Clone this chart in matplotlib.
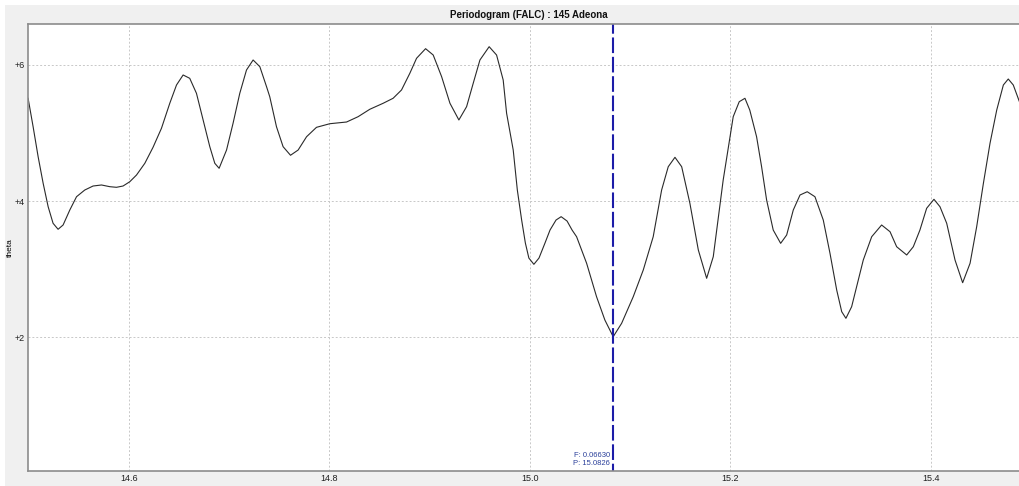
import numpy as np
import matplotlib
matplotlib.use("Agg")
import matplotlib.pyplot as plt
from matplotlib.patches import Rectangle

plt.rcParams['font.family'] = ['Liberation Sans', 'DejaVu Sans']

# periodogram samples: period (h) and theta
period = [14.4996, 14.5046, 14.5096, 14.5146, 14.5196, 14.5245, 14.5295, 14.5345,
          14.5412, 14.5479, 14.5561, 14.5644, 14.5728, 14.5811, 14.5877, 14.5943,
          14.6010, 14.6077, 14.6160, 14.6242, 14.6326, 14.6409, 14.6476, 14.6542,
          14.6608, 14.6675, 14.6741, 14.6808, 14.6858, 14.6901, 14.6975, 14.7040,
          14.7107, 14.7174, 14.7240, 14.7307, 14.7374, 14.7406, 14.7473, 14.7539,
          14.7613, 14.7689, 14.7773, 14.7872, 14.8005, 14.8172, 14.8287, 14.8404,
          14.8537, 14.8636, 14.8720, 14.8803, 14.8870, 14.8960, 14.9036, 14.9120,
          14.9203, 14.9292, 14.9369, 14.9435, 14.9502, 14.9594, 14.9668, 14.9734,
          14.9768, 14.9834, 14.9875, 14.9918, 14.9955, 14.9990, 15.0040, 15.0091,
          15.0151, 15.0201, 15.0261, 15.0312, 15.0371, 15.0421, 15.0466, 15.0566,
          15.0665, 15.0748, 15.0831, 15.0915, 15.1031, 15.1131, 15.1230, 15.1314,
          15.1380, 15.1447, 15.1514, 15.1596, 15.1680, 15.1763, 15.1829, 15.1928,
          15.2028, 15.2088, 15.2145, 15.2193, 15.2261, 15.2311, 15.2361, 15.2427,
          15.2501, 15.2561, 15.2627, 15.2694, 15.2766, 15.2843, 15.2926, 15.2993,
          15.3060, 15.3110, 15.3152, 15.3209, 15.3259, 15.3325, 15.3409, 15.3508,
          15.3592, 15.3658, 15.3758, 15.3824, 15.3890, 15.3957, 15.4030, 15.4090,
          15.4157, 15.4240, 15.4316, 15.4390, 15.4456, 15.4523, 15.4589, 15.4656,
          15.4722, 15.4771, 15.4821, 15.4888]
theta = [5.507, 5.090, 4.650, 4.260, 3.916, 3.673, 3.585, 3.648,
         3.868, 4.063, 4.161, 4.220, 4.235, 4.210, 4.201, 4.220,
         4.283, 4.381, 4.553, 4.788, 5.067, 5.434, 5.702, 5.849,
         5.800, 5.580, 5.189, 4.797, 4.553, 4.480, 4.748, 5.140,
         5.580, 5.922, 6.069, 5.971, 5.677, 5.530, 5.090, 4.797,
         4.671, 4.748, 4.943, 5.081, 5.134, 5.159, 5.237, 5.346,
         5.434, 5.507, 5.629, 5.874, 6.094, 6.235, 6.142, 5.824,
         5.434, 5.189, 5.384, 5.727, 6.069, 6.264, 6.142, 5.775,
         5.287, 4.748, 4.161, 3.721, 3.384, 3.163, 3.071, 3.163,
         3.384, 3.574, 3.721, 3.770, 3.706, 3.574, 3.476, 3.086,
         2.596, 2.254, 2.009, 2.205, 2.596, 2.988, 3.476, 4.161,
         4.503, 4.641, 4.503, 3.966, 3.281, 2.866, 3.183, 4.308,
         5.237, 5.457, 5.507, 5.335, 4.943, 4.503, 4.015, 3.574,
         3.379, 3.501, 3.868, 4.088, 4.136, 4.063, 3.721, 3.233,
         2.694, 2.376, 2.279, 2.449, 2.742, 3.134, 3.476, 3.648,
         3.549, 3.329, 3.208, 3.329, 3.574, 3.893, 4.025, 3.916,
         3.673, 3.134, 2.801, 3.086, 3.623, 4.260, 4.847, 5.335,
         5.702, 5.790, 5.702, 5.434]

best_freq = 0.06630
best_period = 15.0826
xticks = [14.6, 14.8, 15.0, 15.2, 15.4]
yticks = [2, 4, 6]

W, H = 1020, 486
fig = plt.figure(figsize=(W / 100, H / 100), dpi=100)
fig.patch.set_facecolor('white')
fig.patches.append(Rectangle((5 / W, 0), 1, 1 - 5 / H, transform=fig.transFigure,
                             facecolor='#f0f0f0', edgecolor='none', zorder=-10))

left, right, top, bottom = 28, 1020, 24, 470.7
ax = fig.add_axes([left / W, 1 - bottom / H, (right - left) / W, (bottom - top) / H])
ax.set_facecolor('white')

ax.plot(period, theta, color='#2a2a2a', lw=0.8, solid_joinstyle='round')
# dashed marker at the best period, dash phase chosen so it starts at the top edge
ax.axvline(best_period, color='#1c1ca8', lw=1.5, ls=(4, (7.5, 1.8)))

ax.text(best_period - 0.0025, 0.273, f'F: {best_freq:.5f}', color='#2a3f9a',
        fontsize=5.5, ha='right', va='center')
ax.text(best_period - 0.0025, 0.150, f'P: {best_period:.4f}', color='#2a3f9a',
        fontsize=5.5, ha='right', va='center')

ax.set_xlim(14.4995, 15.4888)
ax.set_ylim(0.043, 6.597)
ax.set_xticks(xticks)
ax.set_xticklabels([f'{v:.1f}' for v in xticks])
ax.set_yticks(yticks)
ax.set_yticklabels([f'+{v}' for v in yticks])
ax.tick_params(length=0, labelsize=6.5, colors='#202020')
ax.tick_params(axis='x', pad=2.5)
ax.tick_params(axis='y', pad=2)
ax.grid(True, color='#c8c8c8', lw=0.7, ls=(0, (2, 2)))

for side in ['left', 'bottom', 'top']:
    ax.spines[side].set_color('#8c8c8c')
    ax.spines[side].set_linewidth(1.2)
ax.spines['right'].set_visible(False)

ax.set_title('Periodogram (FALC) : 145 Adeona', fontsize=7.0, fontweight='bold',
             color='#101010', pad=4, x=0.505)
ax.set_ylabel('theta', fontsize=6.0)
ax.yaxis.set_label_coords(-0.0141, 0.5)

fig.savefig('out.png', dpi=100, facecolor=fig.get_facecolor())
